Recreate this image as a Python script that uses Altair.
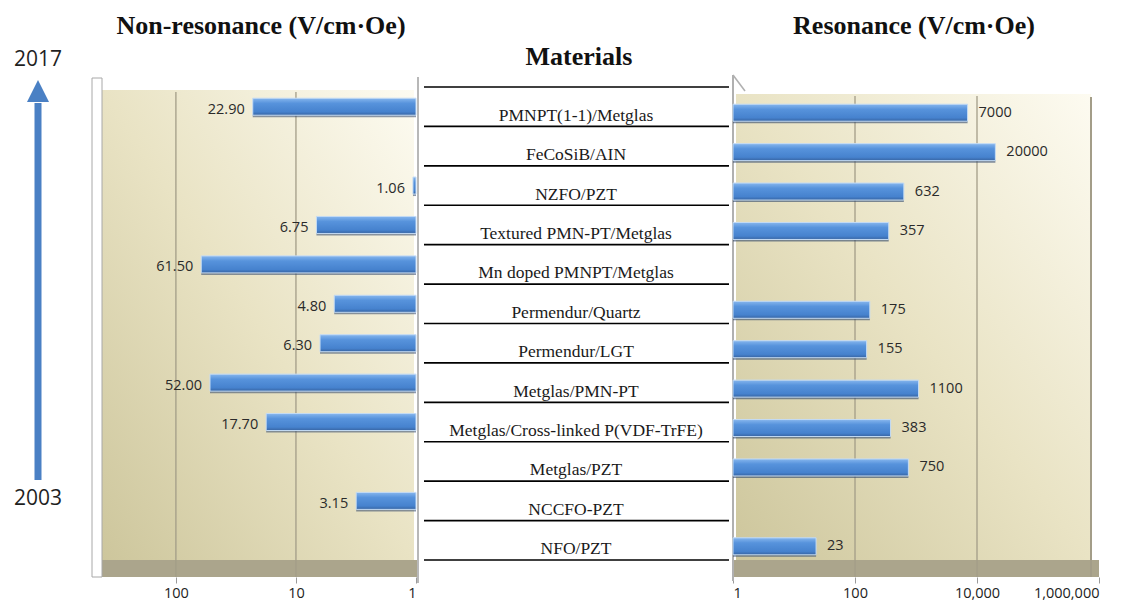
import altair as alt
import pandas as pd

materials = [
    "PMNPT(1-1)/Metglas", "FeCoSiB/AIN", "NZFO/PZT", "Textured PMN-PT/Metglas",
    "Mn doped PMNPT/Metglas", "Permendur/Quartz", "Permendur/LGT", "Metglas/PMN-PT",
    "Metglas/Cross-linked P(VDF-TrFE)", "Metglas/PZT", "NCCFO-PZT", "NFO/PZT",
]
non_res = [22.90, None, 1.06, 6.75, 61.50, 4.80, 6.30, 52.00, 17.70, None, 3.15, None]
res = [7000, 20000, 632, 357, None, 175, 155, 1100, 383, 750, None, 23]
years = ["2017", "2003"]
titles = ["Non-resonance (V/cm·Oe)", "Materials", "Resonance (V/cm·Oe)"]
left_ticks = [1, 10, 100]
left_grid = [10, 100]
right_ticks = [1, 100, 10000, 1000000]
right_grid = [100, 10000]

W1, W2, W3, H = 324, 317, 366, 473
FLOOR = 17

df = pd.DataFrame({"material": materials, "non_res": non_res, "res": res})
one = pd.DataFrame({"k": [0]})

bg_grad = alt.LinearGradient(
    gradient="linear",
    stops=[alt.GradientStop(color="#cdc69c", offset=0),
           alt.GradientStop(color="#e9e3c4", offset=0.5),
           alt.GradientStop(color="#fdfbf1", offset=1)],
    x1=0, y1=1, x2=1, y2=0)
bar_grad = alt.LinearGradient(
    gradient="linear",
    stops=[alt.GradientStop(color="#86b6ee", offset=0),
           alt.GradientStop(color="#5793dc", offset=0.3),
           alt.GradientStop(color="#4682ce", offset=0.8),
           alt.GradientStop(color="#3764a2", offset=1)],
    x1=0, y1=0, x2=0, y2=1)

yband = alt.Y("material:N", scale=alt.Scale(domain=materials, paddingInner=0, paddingOuter=0), axis=None)

def axis_for(values):
    return alt.Axis(values=values, format=",", title=None, domain=False, grid=False,
                    ticks=True, tickColor="#9a9a9a", tickSize=6, offset=FLOOR,
                    labelFont="Open Sans", labelFontSize=14.5, labelColor="#222222",
                    labelPadding=3)

def title_mark(txt, x, y, size):
    return alt.Chart(one).mark_text(text=txt, font="Liberation Serif", fontWeight="bold",
                                    fontSize=size, color="#111111", baseline="alphabetic").encode(
        x=alt.value(x), y=alt.value(y))

# ---------------- Left panel (non-resonance) ----------------
xl_scale = alt.Scale(type="log", domain=[1, 500], reverse=True, nice=False)
l_axis = axis_for(left_ticks)

l_bg = alt.Chart(one).mark_rect(fill=bg_grad).encode(
    x=alt.value(10), x2=alt.value(W1 - 2), y=alt.value(3), y2=alt.value(H))
l_floor = alt.Chart(one).mark_rect(fill="#aba58c").encode(
    x=alt.value(0), x2=alt.value(W1 + 3), y=alt.value(H), y2=alt.value(H + FLOOR))
l_side = alt.Chart(one).mark_rect(fill="white", stroke="#a8a8a8", strokeWidth=1).encode(
    x=alt.value(0), x2=alt.value(10), y=alt.value(-9), y2=alt.value(H + FLOOR))
l_grid = alt.Chart(pd.DataFrame({"non_res": left_grid})).mark_rule(color="#a39d88", strokeWidth=1.3).encode(
    x=alt.X("non_res:Q", scale=xl_scale, axis=l_axis), y=alt.value(5), y2=alt.value(H + FLOOR))
l_shadow = alt.Chart(df).transform_filter("datum.non_res != null").mark_bar(
    size=3, color="#2f4669", opacity=0.55, yOffset=9).encode(
    x=alt.X("non_res:Q", scale=xl_scale, axis=l_axis), x2=alt.datum(1), y=yband)
l_bars = alt.Chart(df).transform_filter("datum.non_res != null").mark_bar(
    size=17, fill=bar_grad, stroke="#c4dbf4", strokeWidth=1).encode(
    x=alt.X("non_res:Q", scale=xl_scale, axis=l_axis), x2=alt.datum(1), y=yband)
l_text = alt.Chart(df).transform_filter("datum.non_res != null").mark_text(
    align="right", dx=-8, dy=3, font="Open Sans", fontSize=14.5, color="#2a2a2a").encode(
    x=alt.X("non_res:Q", scale=xl_scale, axis=l_axis), y=yband,
    text=alt.Text("non_res:Q", format=".2f"))
arrow_shaft = alt.Chart(one).mark_rule(color="#4a80c4", strokeWidth=7).encode(
    x=alt.value(-54), y=alt.value(16), y2=alt.value(393))
arrow_head = alt.Chart(one).mark_point(
    shape="M -1 1 L 0 -1 L 1 1 Z", filled=True, size=484, color="#4a80c4", opacity=1).encode(
    x=alt.value(-54), y=alt.value(4))
yr_top = alt.Chart(one).mark_text(text=years[0], font="Open Sans", fontSize=21, color="#1f1f1f").encode(
    x=alt.value(-54), y=alt.value(-27))
yr_bot = alt.Chart(one).mark_text(text=years[1], font="Open Sans", fontSize=21, color="#1f1f1f").encode(
    x=alt.value(-54), y=alt.value(412))
l_title = title_mark(titles[0], 169, -53, 26)

left = alt.layer(l_bg, l_floor, l_side, l_grid, l_shadow, l_bars, l_text,
                 arrow_shaft, arrow_head, yr_top, yr_bot, l_title).properties(width=W1, height=H)

# ---------------- Middle panel (materials) ----------------
m_edge = alt.Chart(one).mark_rule(color="#b8b8b8", strokeWidth=2).encode(
    x=alt.value(2), y=alt.value(-10), y2=alt.value(H + FLOOR + 6))
m_lines = alt.Chart(df).mark_rule(color="black", strokeWidth=1.6).encode(
    y=alt.Y("material:N", scale=alt.Scale(domain=materials, paddingInner=0, paddingOuter=0),
            axis=None, bandPosition=0),
    x=alt.value(8), x2=alt.value(313))
m_bottom = alt.Chart(one).mark_rule(color="black", strokeWidth=1.6).encode(
    y=alt.value(H), x=alt.value(8), x2=alt.value(313))
m_text = alt.Chart(df).mark_text(font="Liberation Serif", fontSize=17.5, baseline="alphabetic",
                                 dy=14, color="#1a1a1a").encode(
    y=yband, x=alt.value(160), text="material:N")
m_title = title_mark(titles[1], 163, -22, 26)

middle = alt.layer(m_edge, m_lines, m_bottom, m_text, m_title).properties(width=W2, height=H)

# ---------------- Right panel (resonance) ----------------
xr_scale = alt.Scale(type="log", domain=[1, 1000000], nice=False)
r_axis = axis_for(right_ticks)

r_bg = alt.Chart(one).mark_rect(fill=bg_grad).encode(
    x=alt.value(3), x2=alt.value(358), y=alt.value(7), y2=alt.value(H))
r_floor = alt.Chart(one).mark_rect(fill="#aba58c").encode(
    x=alt.value(0), x2=alt.value(W3), y=alt.value(H), y2=alt.value(H + FLOOR))
r_edge = alt.Chart(one).mark_rule(color="#b0b0b0", strokeWidth=2).encode(
    x=alt.value(0), y=alt.value(-12), y2=alt.value(H + FLOOR + 4))
r_diag = alt.Chart(one).mark_rule(color="#b0b0b0", strokeWidth=1.5).encode(
    x=alt.value(0), x2=alt.value(12), y=alt.value(-12), y2=alt.value(4))
r_wall_edge = alt.Chart(one).mark_rule(color="#a39d88", strokeWidth=2).encode(
    x=alt.value(358), y=alt.value(10), y2=alt.value(H + FLOOR))
r_grid = alt.Chart(pd.DataFrame({"res": right_grid})).mark_rule(color="#a39d88", strokeWidth=1.3).encode(
    x=alt.X("res:Q", scale=xr_scale, axis=r_axis), y=alt.value(9), y2=alt.value(H + FLOOR))
r_shadow = alt.Chart(df).transform_filter("datum.res != null").mark_bar(
    size=3, color="#2f4669", opacity=0.6, yOffset=15).encode(
    x=alt.X("res:Q", scale=xr_scale, axis=r_axis), x2=alt.datum(1), y=yband)
r_bars = alt.Chart(df).transform_filter("datum.res != null").mark_bar(
    size=17, fill=bar_grad, stroke="#c4dbf4", strokeWidth=1, yOffset=6).encode(
    x=alt.X("res:Q", scale=xr_scale, axis=r_axis), x2=alt.datum(1), y=yband)
r_text = alt.Chart(df).transform_filter("datum.res != null").mark_text(
    align="left", dx=11, dy=6, font="Open Sans", fontSize=14.5, color="#2a2a2a").encode(
    x=alt.X("res:Q", scale=xr_scale, axis=r_axis), y=yband,
    text=alt.Text("res:Q", format="d"))
r_title = title_mark(titles[2], 181, -53, 26)

right = alt.layer(r_bg, r_floor, r_grid, r_wall_edge, r_edge, r_diag, r_shadow, r_bars, r_text,
                  r_title).properties(width=W3, height=H)

chart = alt.hconcat(left, middle, right, spacing=0, bounds="flush").configure_view(
    stroke=None).properties(background="white")

chart.save("out.html", embed_options={"renderer": "svg", "actions": False})
